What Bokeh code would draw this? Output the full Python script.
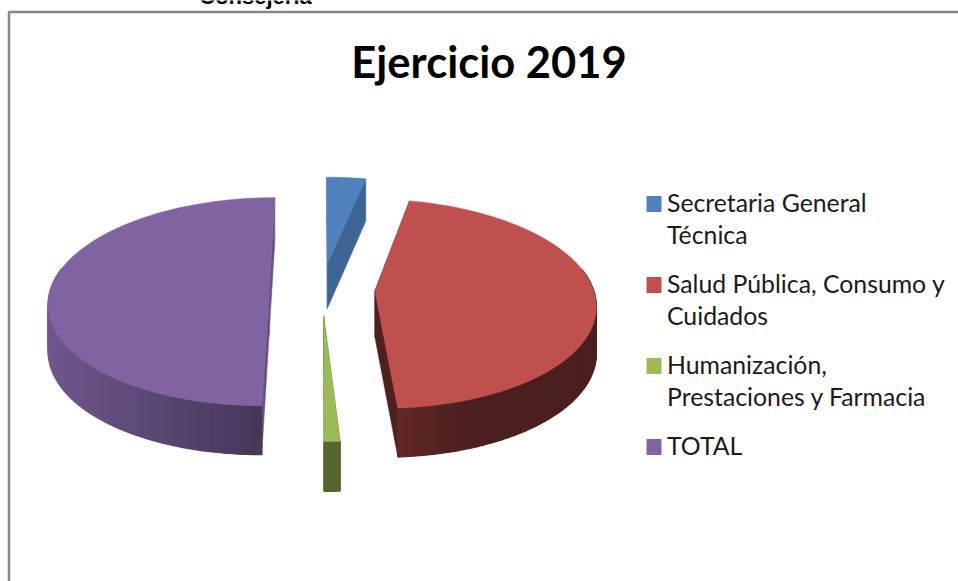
import math
from bokeh.plotting import figure
from bokeh.models import Range1d
from bokeh.embed import file_html
from bokeh.resources import INLINE
from bokeh.core.properties import value

categories = ["Secretaria General Técnica", "Salud Pública, Consumo y Cuidados",
              "Humanización, Prestaciones y Farmacia", "TOTAL"]
shares = [3.3, 45.7, 1.0, 50.0]
colors = ["#4f81bd", "#c0504d", "#9bbb59", "#8064a2"]
legend_lines = [["Secretaria General", "Técnica"], ["Salud Pública, Consumo y", "Cuidados"],
                ["Humanización,", "Prestaciones y Farmacia"], ["TOTAL"]]
title_text = "Ejercicio 2019"
clipped_heading = "Consejería"

W, H = 958, 581
CX, CY, RX, RY, K = 321.5, 288.5, 218.5, 102.5, 0.122
EX, EY = 0.242, 0.26


def shade(c, f):
    r, g, b = int(c[1:3], 16), int(c[3:5], 16), int(c[5:7], 16)
    return "#%02x%02x%02x" % (int(r * f), int(g * f), int(b * f))


def proj(u, v):
    s = 1 / (1 - K * v)
    return CX + RX * u * s, CY + RY * v * s


def depth(v):
    return 46 + 3.0 * v


def rim_factor(col, x):
    if col == colors[3]:
        return 0.87 - 0.32 * (x - 50) / 210
    if col == colors[1]:
        return max(0.39, 0.50 - 0.11 * (x - 400) / 70)
    return 0.6


cut_factor = {colors[0]: 0.78, colors[1]: 0.41, colors[2]: 0.55, colors[3]: 0.82}

p = figure(width=W, height=H, x_range=Range1d(0, W), y_range=Range1d(H, 0),
           toolbar_location=None, output_backend="svg", min_border=0)
p.axis.visible = False
p.grid.visible = False
p.outline_line_color = None

p.line([8.5, 8.5, W], [H, 11.5, 11.5], line_color="#868686", line_width=2.5)

start = 0.0
total = sum(shares)
for share, col in zip(shares, colors):
    a0 = start / total * 2 * math.pi
    a1 = (start + share) / total * 2 * math.pi
    start += share
    mid = (a0 + a1) / 2
    du, dv = EX * math.sin(mid), -EY * math.cos(mid)
    n = max(4, int((a1 - a0) / 0.03))
    arc = [(du + math.sin(a0 + (a1 - a0) * i / n), dv - math.cos(a0 + (a1 - a0) * i / n))
           for i in range(n + 1)]
    apex = (du, dv)

    def prism(a, b):
        ax, ay = proj(*a)
        bx, by = proj(*b)
        return ([ax, bx, bx, ax], [ay, by, by + depth(b[1]), ay + depth(a[1])])

    cut = shade(col, cut_factor[col])
    for edge in (arc[0], arc[-1]):
        xs, ys = prism(apex, edge)
        p.patch(xs, ys, fill_color=cut, line_color=cut, line_width=0.5)
    for a, b in zip(arc[:-1], arc[1:]):
        if (a[1] + b[1]) / 2 < dv - 0.2:
            continue
        xs, ys = prism(a, b)
        c = shade(col, 0.55) if col == colors[2] else shade(col, rim_factor(col, sum(xs) / 4))
        p.patch(xs, ys, fill_color=c, line_color=c, line_width=1.2)
    pts = [proj(*apex)] + [proj(*q) for q in arc]
    p.patch([q[0] for q in pts], [q[1] for q in pts], fill_color=col, line_color=col, line_width=0.5)

p.text([488.5], [60], text=[title_text], text_font=value("Lato"), text_font_style="bold",
       text_font_size="43.5px", text_align="center", text_baseline="alphabetic", text_color="#000000")
p.text([255], [-4], text=[clipped_heading], text_font=value("Liberation Sans"), text_font_style="bold",
       text_font_size="22px", text_align="center", text_baseline="alphabetic", text_color="#000000")

y = 202
swatch_top = 212
swatch_x, text_x = 653.5, 666.5
for lines, col in zip(legend_lines, colors):
    p.rect([swatch_x], [swatch_top - 8.5], width=15, height=16, fill_color=col, line_color=None)
    for line in lines:
        p.text([text_x], [y], text=[line], text_font=value("Lato"), text_font_size="24.8px",
               text_align="left", text_baseline="alphabetic", text_color="#1a1a1a")
        y += 32
    y += 17
    swatch_top += 32 * len(lines) + 17

open("out.html", "w").write(file_html(p, INLINE))
